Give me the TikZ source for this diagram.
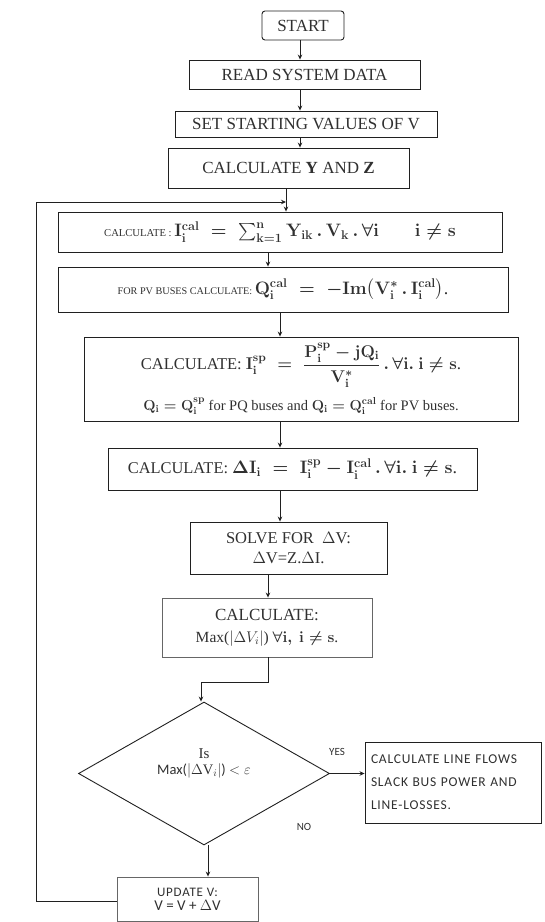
\RequirePackage{fix-cm}
\documentclass[tikz,border=0pt]{standalone}
\usepackage{amsmath}
\usepackage{fontspec}
\setmainfont{Liberation Serif}
\newfontfamily\carl{Carlito}
\newfontfamily\carlw{Carlito}[LetterSpace=6]
\usetikzlibrary{shapes.geometric,arrows.meta}
\definecolor{tx}{HTML}{303030}
\definecolor{lnc}{HTML}{202020}
\newcommand\fz[2]{\fontsize{#1pt}{#2pt}\selectfont}
\newsavebox\bci
\newsavebox\bpv
\newsavebox\bisp
\newsavebox\bispb
\newsavebox\bdi
\newsavebox\bmx
\newsavebox\bdia
\begin{document}
\sbox\bci{\color{tx}\fz{10.6}{13}CALCULATE : \fz{18}{21}\boldmath$\mathbf{I_i^{cal}} \;=\; \sum_{\mathbf{k=1}}^{\mathbf{n}} \mathbf{Y_{ik}}\,.\,\mathbf{V_k}\,.\,\forall \mathbf{i} \qquad \mathbf{i} \neq \mathbf{s}$}%
\sbox\bpv{\color{tx}\fz{10.2}{13}FOR PV BUSES CALCULATE: \fz{18}{21}\boldmath$\mathbf{Q_i^{cal}} \;=\; -\mathbf{Im}\bigl(\mathbf{V_i^{*}}\,.\,\mathbf{I_i^{cal}}\bigr)$.}%
\sbox\bisp{\color{tx}\fz{16.5}{19}CALCULATE: \fz{17}{20}\boldmath$\mathbf{I_i^{sp}} \;=\; \dfrac{\mathbf{P_i^{sp}-jQ_i}}{\mathbf{V_i^{*}}}\,.\,\forall \mathbf{i}.\ \mathbf{i} \neq \mathbf{s}$.}%
\sbox\bispb{\color{tx}\fz{14.5}{17}\boldmath$\mathbf{Q_i} = \mathbf{Q_i^{sp}}$ for PQ buses and $\mathbf{Q_i} = \mathbf{Q_i^{cal}}$ for PV buses.}%
\sbox\bdi{\color{tx}\fz{16.4}{19}CALCULATE: \fz{18}{21}\boldmath$\mathbf{\Delta I_i} \;=\; \mathbf{I_i^{sp}} - \mathbf{I_i^{cal}}\,.\,\forall \mathbf{i}.\ \mathbf{i} \neq \mathbf{s}$.}%
\sbox\bmx{\color{tx}\fz{15.5}{21}Max($|\Delta V_i|$) {\boldmath$\forall\mathbf{i},\ \mathbf{i} \neq \mathbf{s}$}.}%
\sbox\bdia{\color{tx}\carl\fz{14.5}{18}Max($|\Delta\mathrm{V}_i|$) $<\varepsilon$}%
\begin{tikzpicture}[x=1pt,y=-1pt,
  box/.style={draw=lnc, line width=0.9pt, inner sep=2pt, align=center, text=tx},
  gbox/.style={box, draw=black!60},
  arr/.style={draw=lnc, line width=0.9pt, -{Stealth[length=5pt,width=4.5pt]}},
  lab/.style={text=tx, font=\carl\fz{11}{13}}
  ]
\useasboundingbox (0,0) rectangle (545,922);

\node[box, rounded corners=3pt, minimum width=82, minimum height=29, font=\fz{17}{20}] (start) at (303,25.5) {START};
\node[box, minimum width=231, minimum height=29, font=\fz{17}{20}] (read) at (304.5,74.5) {READ SYSTEM DATA};
\node[box, minimum width=262, minimum height=26, font=\fz{17}{20}] (set) at (306,124) {SET STARTING VALUES OF V};
\node[box, minimum width=241, minimum height=40, font=\fz{17}{20}] (yz) at (288.5,168) {CALCULATE \textbf{Y} AND \textbf{Z}};
\node[box, minimum width=444, minimum height=40] (calcI) at (280,232) {\usebox\bci};
\node[box, minimum width=450, minimum height=45] (pv) at (283,289.5) {\usebox\bpv};
\node[box, minimum width=434, minimum height=84] (isp) at (301,379) {\usebox\bisp\\[9pt]\usebox\bispb};
\node[box, minimum width=369, minimum height=42] (di) at (292.5,469) {\usebox\bdi};
\node[box, minimum width=197, minimum height=52, font=\fz{16.5}{20}] (sv) at (288.5,548) {SOLVE FOR\ \ $\Delta$V:\\$\Delta$V=Z.$\Delta$I.};
\node[gbox, minimum width=210, minimum height=59, font=\fz{17}{22}] (mx) at (267,627.5) {CALCULATE:\\\usebox\bmx};
\node[draw=lnc, line width=0.9pt, diamond, minimum width=251, minimum height=143, inner sep=0pt] (dia) at (204,773.5) {};
\node[align=center, text=tx, anchor=center] (diat) at ([yshift=10pt]dia.center) {\fz{15}{17}Is\\[4pt]\usebox\bdia};
\node[box, minimum width=176, minimum height=81, text width=164, align=left, font=\carlw\fz{13.5}{23}] (rb) at (453,782.5) {CALCULATE LINE FLOWS\\SLACK BUS POWER AND\\LINE-LOSSES.};
\node[gbox, minimum width=141, minimum height=44] (up) at (187.5,899) {\carlw\fz{13}{15}UPDATE V:\\[2pt]\carl\fz{15}{17}V = V + $\Delta$V};

\node[lab] (yes) at (337,752) {YES};
\node[lab] (no) at (304,827) {NO};

\coordinate (j) at (286,202);
\coordinate (lx) at (36,0);

\draw[arr] ([xshift=-3pt]start.south) -- ([xshift=-3pt]start.south |- read.north);
\draw[arr] ([xshift=-4.5pt]read.south) -- ([xshift=-4.5pt]read.south |- set.north);
\draw[arr] ([xshift=-6pt]set.south) -- ([xshift=-6pt]set.south |- yz.north);
\draw[arr] (yz.south -| j) -- (calcI.north -| j);
\draw[arr] ([xshift=-12pt]calcI.south) -- ([xshift=-12pt]calcI.south |- pv.north);
\draw[arr] ([xshift=-3pt]pv.south) -- ([xshift=-3pt]pv.south |- isp.north);
\draw[arr] ([xshift=-21pt]isp.south) -- ([xshift=-21pt]isp.south |- di.north);
\draw[arr] ([xshift=-12.5pt]di.south) -- ([xshift=-12.5pt]di.south |- sv.north);
\draw[arr] ([xshift=-20.5pt]sv.south) -- ([xshift=-20.5pt]sv.south |- mx.north);
\draw[arr] ([xshift=1pt]mx.south) -- ++(0,25) -| ([xshift=-3pt]dia.north);
\draw[arr] (dia.east) -- (dia.east -| rb.west);
\draw[arr] ([xshift=4pt]dia.south) -- ([xshift=4pt]dia.south |- up.north);
\draw[arr] ([yshift=-2pt]up.west) -- ([yshift=-2pt]up.west -| lx) |- (j);
\end{tikzpicture}
\end{document}
